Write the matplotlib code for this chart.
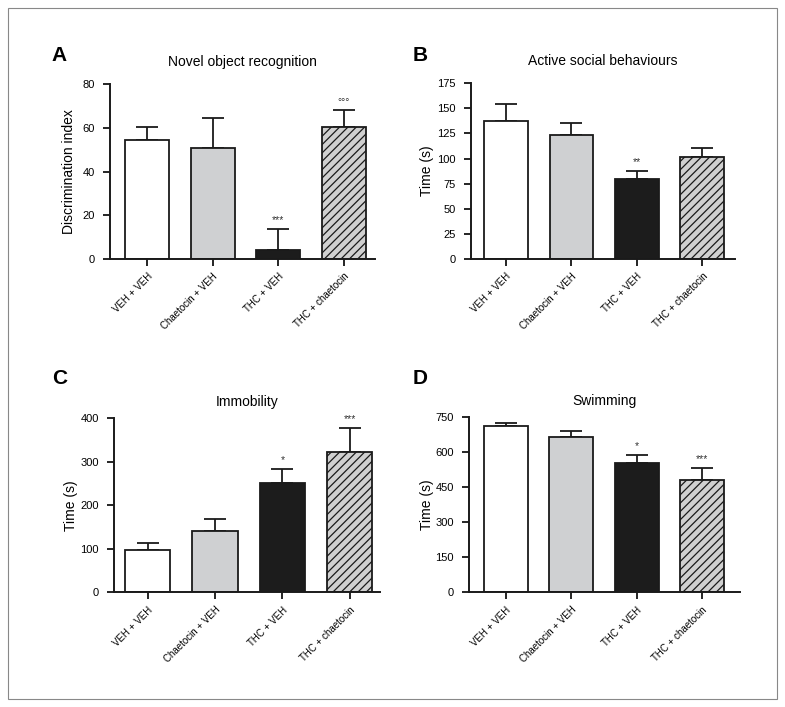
import matplotlib
matplotlib.use("Agg")
import matplotlib.pyplot as plt
from matplotlib.patches import Rectangle
from matplotlib.transforms import blended_transform_factory
import numpy as np

plt.rcParams['font.family'] = ['Liberation Sans', 'DejaVu Sans']
plt.rcParams['hatch.linewidth'] = 0.9
plt.rcParams['hatch.color'] = '#333333'

groups = ["VEH + VEH", "Chaetocin + VEH", "THC + VEH", "THC + chaetocin"]

nor_mean = [54.5, 50.7, 4.3, 60.5]
nor_err = [5.8, 14.0, 9.6, 7.6]
nor_sig = ["", "", "***", "\u00b0\u00b0\u00b0"]

social_mean = [137.7, 123.5, 80.0, 101.3]
social_err = [16.3, 11.5, 8.0, 9.0]
social_sig = ["", "", "**", ""]

immob_mean = [98, 141.6, 250.6, 322]
immob_err = [15, 26.4, 33.4, 56]
immob_sig = ["", "", "*", "***"]

swim_mean = [712.7, 667, 554, 480]
swim_err = [12.3, 24, 36, 53]
swim_sig = ["", "", "*", "***"]

panels = [
    dict(letter="A", title="Novel object recognition", ylabel="Discrimination index",
         mean=nor_mean, err=nor_err, sig=nor_sig, ylim=80, yticks=[0, 20, 40, 60, 80],
         rect=[0.1401, 0.6337, 0.3376, 0.2471], xlim=(-0.57, 3.48),
         letter_xy=(0.066, 0.922), ylabel_x=0.097, pad=13),
    dict(letter="B", title="Active social behaviours", ylabel="Time (s)",
         mean=social_mean, err=social_err, sig=social_sig, ylim=175,
         yticks=[0, 25, 50, 75, 100, 125, 150, 175],
         rect=[0.5996, 0.6337, 0.3367, 0.2485], xlim=(-0.54, 3.50),
         letter_xy=(0.525, 0.922), ylabel_x=0.553, pad=13),
    dict(letter="C", title="Immobility", ylabel="Time (s)",
         mean=immob_mean, err=immob_err, sig=immob_sig, ylim=400,
         yticks=[0, 100, 200, 300, 400],
         rect=[0.1452, 0.1622, 0.3389, 0.2461], xlim=(-0.50, 3.45),
         letter_xy=(0.066, 0.465), ylabel_x=0.099, pad=9),
    dict(letter="D", title="Swimming", ylabel="Time (s)",
         mean=swim_mean, err=swim_err, sig=swim_sig, ylim=750,
         yticks=[0, 150, 300, 450, 600, 750],
         rect=[0.5978, 0.1622, 0.3449, 0.2476], xlim=(-0.56, 3.58),
         letter_xy=(0.525, 0.465), ylabel_x=0.553, pad=9),
]

fills = ["white", "#cfd0d2", "#1c1c1c", "#d0d0d0"]
hatches = [None, None, None, "////"]

fig = plt.figure(figsize=(7.85, 7.07), dpi=100)
fig.patches.append(Rectangle((8 / 785, 8 / 707), 769 / 785, 691 / 707, transform=fig.transFigure,
                             fill=False, edgecolor='#888888', linewidth=0.8))

for p in panels:
    ax = fig.add_axes(p["rect"])
    x = np.arange(len(groups))
    for i in range(len(groups)):
        ax.bar(x[i], p["mean"][i], width=0.67, color=fills[i], edgecolor='#1a1a1a',
               linewidth=1.3, hatch=hatches[i], zorder=2)
        ax.errorbar(x[i], p["mean"][i], yerr=[[0], [p["err"][i]]], fmt='none',
                    ecolor='#1a1a1a', elinewidth=1.3, capsize=8, capthick=1.3, zorder=1)
        if p["sig"][i]:
            ax.text(x[i], p["mean"][i] + p["err"][i] + p["ylim"] * 0.02, p["sig"][i],
                    ha='center', va='bottom', fontsize=7.5, color='#333333')
    ax.set_xlim(*p["xlim"])
    ax.set_ylim(0, p["ylim"])
    ax.set_yticks(p["yticks"])
    ax.set_xticks(x)
    ax.set_xticklabels(groups, rotation=45, ha='right', rotation_mode='anchor', fontsize=7)
    ax.tick_params(axis='y', labelsize=8, direction='out', length=5, width=1.2, pad=6)
    ax.tick_params(axis='x', direction='out', length=5, width=1.2, pad=4)
    for s in ['top', 'right']:
        ax.spines[s].set_visible(False)
    for s in ['left', 'bottom']:
        ax.spines[s].set_linewidth(1.4)
        ax.spines[s].set_color('#1a1a1a')
    ax.set_title(p["title"], fontsize=10, pad=p["pad"])
    ax.set_ylabel(p["ylabel"], fontsize=10)
    ax.yaxis.set_label_coords(p["ylabel_x"], 0.5,
                              transform=blended_transform_factory(fig.transFigure, ax.transAxes))
    fig.text(p["letter_xy"][0], p["letter_xy"][1], p["letter"], fontsize=15,
             fontweight='bold', ha='left', va='center')

fig.savefig("out.png", dpi=100)
